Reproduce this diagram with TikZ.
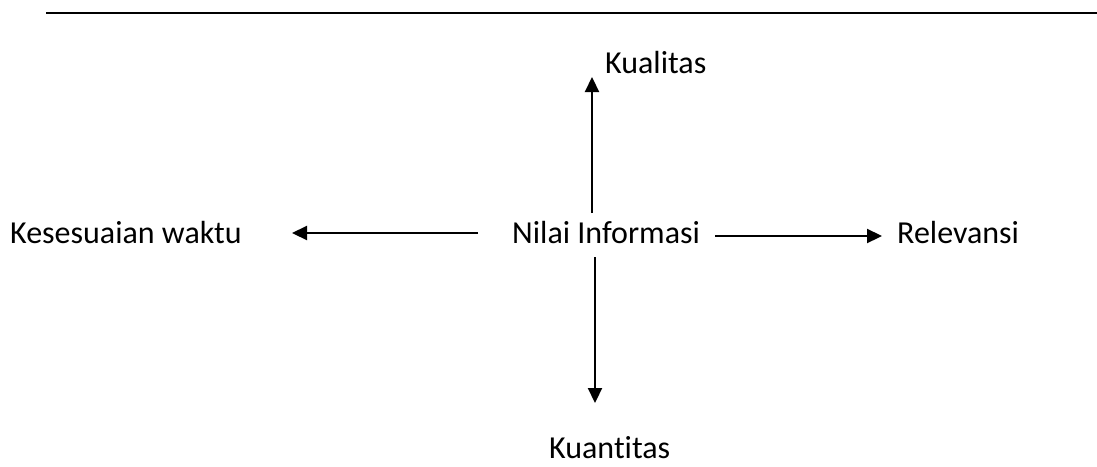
\documentclass[tikz,border=0pt]{standalone}
\usepackage{fontspec}
\setmainfont{Carlito}[Ligatures=NoCommon]
\usetikzlibrary{arrows.meta}

\tikzset{
  label text/.style={inner sep=0pt, anchor=base west, font=\fontsize{32}{38}\selectfont},
  flow/.style={line width=2.2pt, -{Triangle[length=15pt,width=14pt]}}
}

\begin{document}
\begin{tikzpicture}[x=1pt,y=-1pt]
\useasboundingbox (0,0) rectangle (1097,466);

% === Rule across the top ===
\draw[line width=2.5pt] (46,13) -- (1097,13);

% === Centre and the four values ===
\node[label text] (info) at (512,243) {Nilai Informasi};
\node[label text] (kual) at (605,73) {Kualitas};
\node[label text] (kuan) at (549,458) {Kuantitas};
\node[label text] (waktu) at (10,243) {Kesesuaian waktu};
\node[label text] (rel) at (897,243) {Relevansi};

% === Arrow tips ===
\coordinate (upE) at (592,77);
\coordinate (dnE) at (595,403);
\coordinate (ltE) at (292,233);
\coordinate (rtE) at (882,236);

\draw[flow] ([yshift=30pt]info.base -| upE) -- (upE);
\draw[flow] ([yshift=-14pt]info.base -| dnE) -- (dnE);
\draw[flow] ([xshift=-34pt]info.west |- ltE) -- (ltE);
\draw[flow] ([xshift=15pt]info.east |- rtE) -- (rtE);

\end{tikzpicture}
\end{document}
